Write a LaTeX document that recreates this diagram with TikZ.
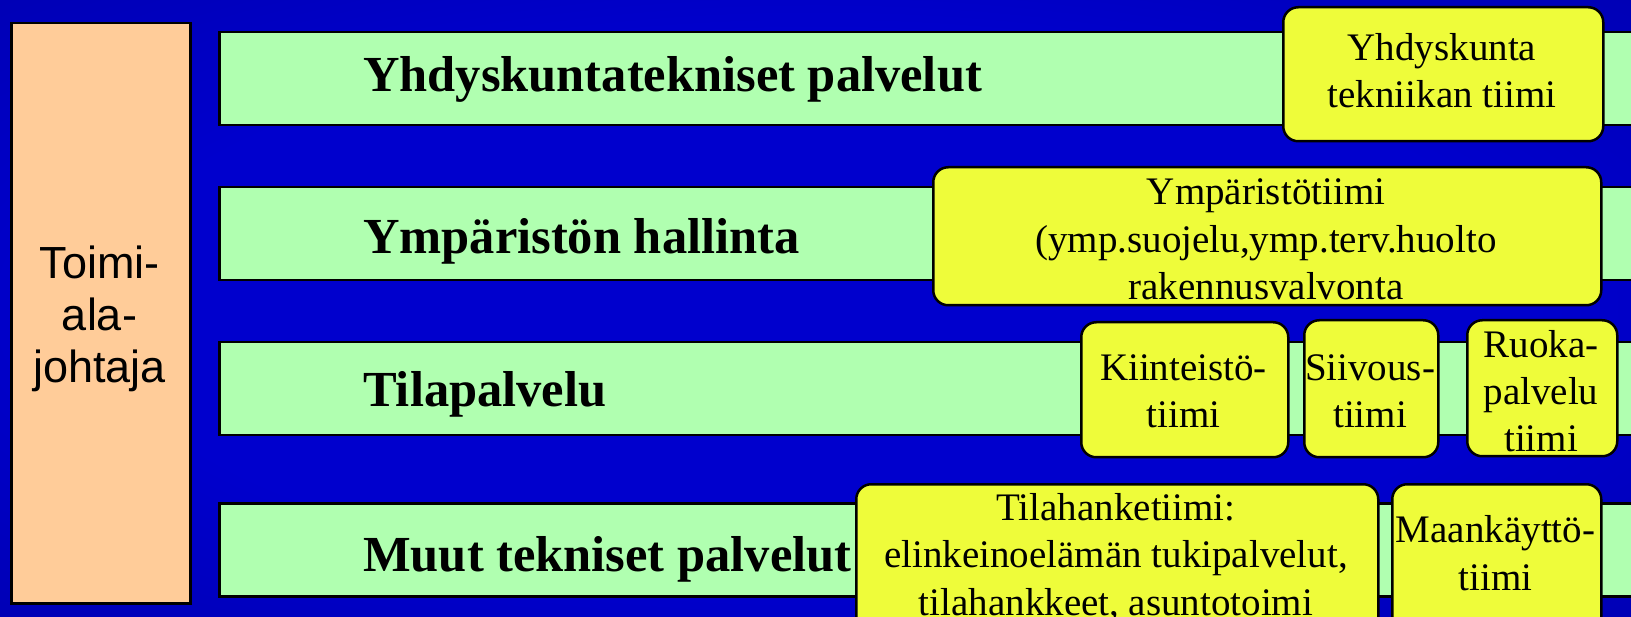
\documentclass[tikz,border=0pt]{standalone}
\usepackage{fontspec}
\setmainfont{Liberation Serif}
\newfontfamily\arialfont{Liberation Sans}
\definecolor{bgin}{RGB}{0,0,205}
\definecolor{bgout}{RGB}{0,0,120}
\definecolor{barfill}{RGB}{176,255,176}
\definecolor{teamfill}{RGB}{238,252,58}
\definecolor{chieffill}{RGB}{255,204,153}
\pgfdeclareradialshading{bgshade}{\pgfpoint{0bp}{0bp}}{color(0bp)=(bgin); color(22bp)=(bgin); color(71bp)=(bgout)}
\tikzset{
  chiefbox/.style={draw=black, line width=2.5pt, fill=chieffill, anchor=north west, inner sep=0pt},
  chieftext/.style={font=\fontsize{45}{52}\selectfont\arialfont, align=center, inner sep=0pt, anchor=base},
  barbox/.style={draw=black, line width=2.5pt, fill=barfill, anchor=north west, inner sep=0pt, minimum width=1440pt, minimum height=93pt},
  barlabel/.style={font=\fontsize{50.5}{60}\selectfont\bfseries, inner sep=0pt, anchor=base west},
  teambox/.style={draw=black, line width=2.5pt, fill=teamfill, rounded corners=15pt, anchor=north west, inner sep=0pt},
  teamtext/.style={font=\fontsize{39}{47.5}\selectfont, align=center, inner sep=0pt, anchor=base}
}
\begin{document}
\begin{tikzpicture}[x=1pt,y=-1pt]
\path[use as bounding box] (0,0) rectangle (1631,617);
\clip (0,0) rectangle (1631,617);
\shade[shading=bgshade] (0,0) rectangle (1631,617);

% chief box
\node[chiefbox, minimum width=179pt, minimum height=580pt] (chief) at (10,22) {};
\node[chieftext] (chiefT) at (99.5,383) {Toimi-\\ala-\\johtaja};

% bars
\node[barbox] (bar1) at (218,31) {};
\node[barbox] (bar2) at (218,186) {};
\node[barbox] (bar3) at (218,341) {};
\node[barbox] (bar4) at (218,502) {};
\node[barlabel] (lab1) at (363,92) {Yhdyskuntatekniset palvelut};
\node[barlabel] (lab2) at (363,254) {Ympäristön hallinta};
\node[barlabel] (lab3) at (363,407) {Tilapalvelu};
\node[barlabel] (lab4) at (363,571) {Muut tekniset palvelut};

% team boxes
\node[teambox, minimum width=320pt, minimum height=134pt] (t1) at (1282,6) {};
\node[teamtext] (t1T) at (1442,108) {Yhdyskunta\\tekniikan tiimi};

\node[teambox, minimum width=668pt, minimum height=138pt] (t2) at (932,166) {};
\node[teamtext] (t2T) at (1266,300) {Ympäristötiimi\\(ymp.suojelu,ymp.terv.huolto\\rakennusvalvonta};

\node[teambox, minimum width=207pt, minimum height=135pt] (t3) at (1080,321) {};
\node[teamtext] (t3T) at (1183.5,428) {Kiinteistö-\\tiimi};

\node[teambox, minimum width=134pt, minimum height=137pt] (t4) at (1303,319) {};
\node[teamtext] (t4T) at (1370,428) {Siivous-\\tiimi};

\node[teambox, minimum width=150pt, minimum height=136pt] (t5) at (1466,319) {};
\node[teamtext] (t5T) at (1541,452) {Ruoka-\\palvelu\\tiimi};

\node[teambox, minimum width=522pt, minimum height=170pt] (t6) at (855,483) {};
\node[teamtext] (t6T) at (1116,615) {Tilahanketiimi:\\elinkeinoelämän tukipalvelut,\\tilahankkeet, asuntotoimi};

\node[teambox, minimum width=209pt, minimum height=170pt] (t7) at (1391,483) {};
\node[teamtext] (t7T) at (1495.5,590) {Maankäyttö-\\tiimi};
\end{tikzpicture}
\end{document}
